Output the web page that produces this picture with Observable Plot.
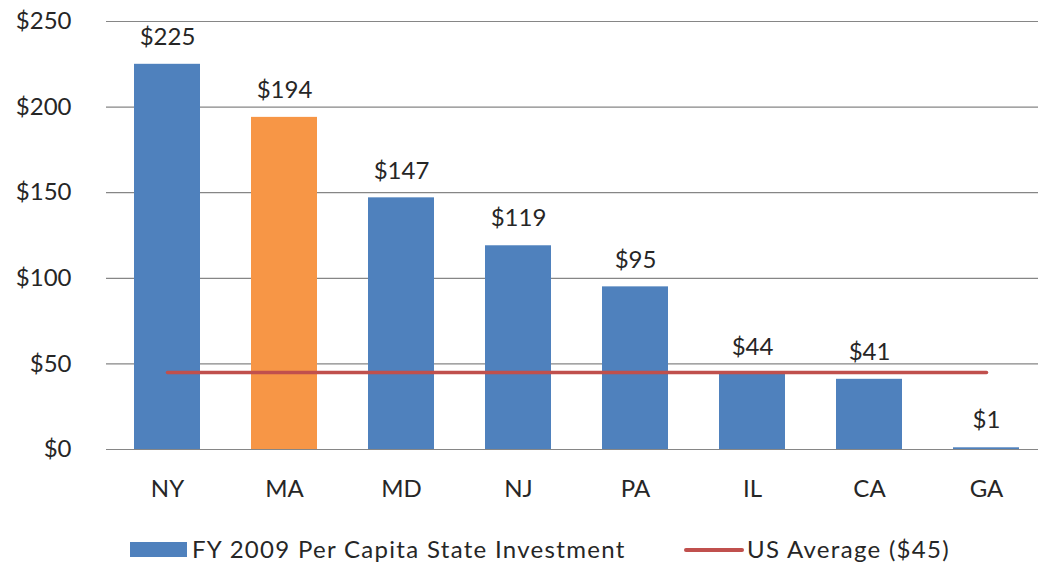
<!DOCTYPE html>
<html>
<head>
<meta charset="utf-8">
<script src="https://cdn.jsdelivr.net/npm/d3@7"></script>
<script src="https://cdn.jsdelivr.net/npm/@observablehq/plot@0.6"></script>
<style>
  html, body { margin: 0; padding: 0; background: #fff; overflow: hidden; }
  #chart svg { overflow: visible; }
</style>
</head>
<body>
<div id="chart"></div>
<script>
const states = ["NY", "MA", "MD", "NJ", "PA", "IL", "CA", "GA"];
const investment = [225, 194, 147, 119, 95, 44, 41, 1];
const usAverage = 45;
const yTicks = [0, 50, 100, 150, 200, 250];
const highlightState = "MA";
const seriesLabel = "FY 2009 Per Capita State Investment";
const averageLabel = "US Average ($45)";

const blue = "#4F81BD", orange = "#F79646", red = "#C0504D";
const data = states.map((s, i) => ({state: s, value: investment[i]}));

const plot = Plot.plot({
  width: 1038,
  height: 510,
  marginTop: 21,
  marginBottom: 61,
  marginLeft: 106,
  marginRight: 0,
  style: {fontFamily: "Lato, sans-serif", fontSize: "24px", color: "#262626", overflow: "visible"},
  x: {domain: states, range: [106, 1046], paddingInner: 0.44, paddingOuter: 0.22},
  y: {domain: [0, 250]},
  marks: [
    Plot.ruleY(yTicks, {stroke: "#868686", strokeWidth: 1.2}),
    Plot.barY(data, {x: "state", y: "value", fill: d => d.state === highlightState ? orange : blue}),
    Plot.text(data, {x: "state", y: "value", text: d => "$" + d.value, dy: -27, fill: "#262626", fontSize: 24}),
    Plot.lineY(states, {x: d => d, y: () => usAverage, stroke: red, strokeWidth: 3.5}),
    Plot.axisY({ticks: yTicks, tickFormat: d => "$" + d, tickSize: 0, tickPadding: 35, fontSize: 24, label: null}),
    Plot.axisX({tickSize: 0, tickPadding: 30, fontSize: 24, label: null})
  ]
});
document.getElementById("chart").appendChild(plot);

const legend = document.createElement("div");
legend.style.cssText = "position:absolute;left:0;top:0;width:1038px;height:565px;pointer-events:none;font-family:Lato,sans-serif;font-size:24px;letter-spacing:1.3px;color:#262626;";
legend.innerHTML = `
  <div style="position:absolute;left:130px;top:542px;width:57px;height:15px;background:${blue}"></div>
  <div style="position:absolute;left:192px;top:535px;line-height:28px;white-space:nowrap">${seriesLabel}</div>
  <div style="position:absolute;left:684px;top:548px;width:60px;height:4px;background:${red};border-radius:2px"></div>
  <div style="position:absolute;left:747px;top:535px;line-height:28px;white-space:nowrap">${averageLabel}</div>
`;
document.body.appendChild(legend);
</script>
</body>
</html>
